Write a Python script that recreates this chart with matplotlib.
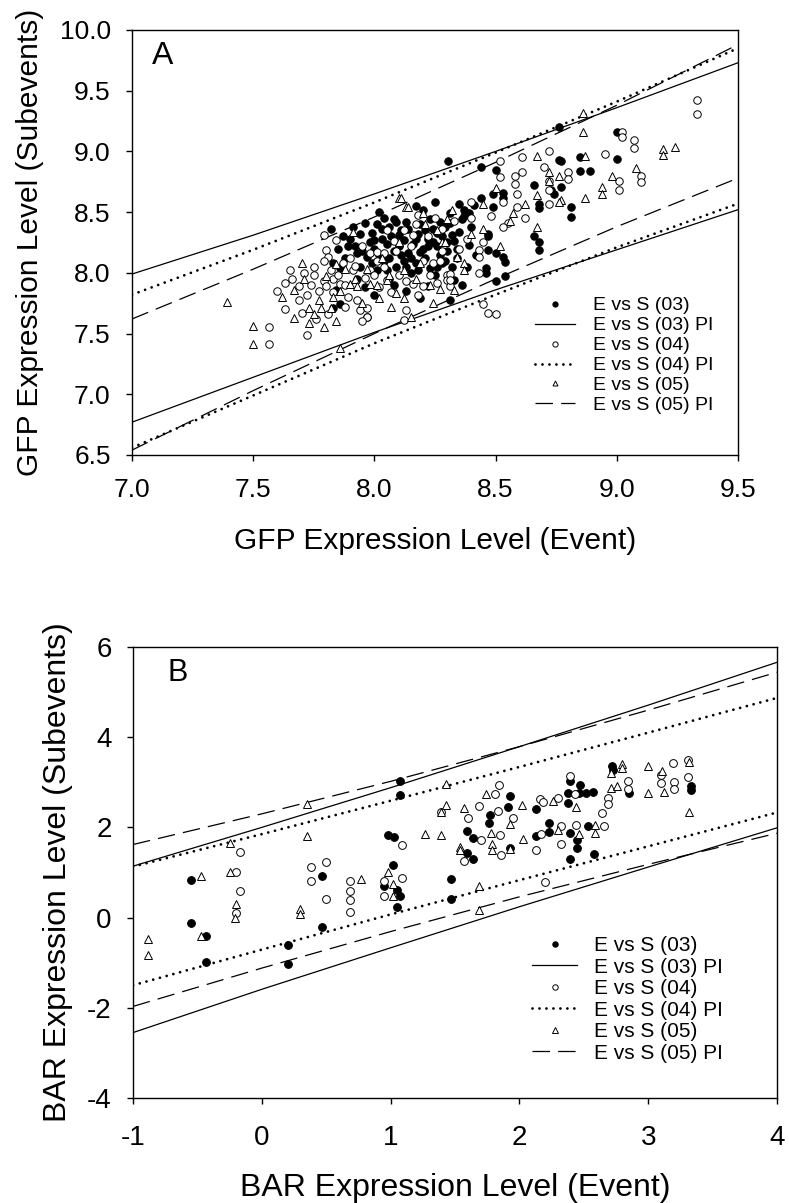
import numpy as np
import matplotlib
matplotlib.use('Agg')
import matplotlib.pyplot as plt

# ---------------- panel A : GFP ----------------
gfp_03 = [(8.305, 8.92), (8.44, 8.87), (8.50, 8.85), (8.76, 9.20), (8.76, 8.93), (8.77, 8.92),
          (8.85, 8.95), (8.85, 8.84), (8.89, 8.84), (9.00, 9.16), (9.00, 8.94), (8.66, 8.72),
          (8.77, 8.71), (8.73, 8.68), (8.74, 8.65), (8.68, 8.57), (8.68, 8.53), (8.81, 8.54),
          (8.81, 8.46), (8.66, 8.30), (8.68, 8.25), (8.68, 8.19), (8.44, 8.62), (8.49, 8.65),
          (8.49, 8.54), (8.53, 8.66), (8.53, 8.62), (8.37, 8.47), (8.39, 8.49), (8.31, 8.49),
          (8.31, 8.41), (8.47, 8.32), (8.47, 8.30), (8.39, 8.23), (8.47, 8.19), (8.50, 8.16),
          (8.53, 8.13), (8.54, 8.09), (8.46, 8.04), (8.46, 8.00), (8.50, 7.93), (8.54, 7.97),
          (7.82, 8.36), (7.90, 8.28), (7.94, 8.32), (7.96, 8.41), (8.04, 8.45), (8.09, 8.42),
          (8.13, 8.42), (7.92, 8.22), (7.95, 8.18), (7.98, 8.25), (8.00, 8.20), (8.02, 8.15),
          (8.05, 8.24), (8.07, 8.30), (8.08, 8.18), (8.10, 8.22), (8.12, 8.27), (8.14, 8.16),
          (8.16, 8.24), (8.18, 8.32), (8.20, 8.20), (8.22, 8.28), (8.24, 8.36), (8.26, 8.22),
          (8.28, 8.30), (8.30, 8.18), (8.33, 8.26), (8.35, 8.34), (8.11, 8.35), (8.19, 8.40),
          (8.27, 8.42), (8.03, 8.36), (7.99, 8.08), (8.01, 8.02), (8.04, 8.10), (8.06, 7.95),
          (8.09, 8.05), (8.12, 8.10), (8.15, 8.00), (8.17, 8.08), (8.21, 8.12), (8.23, 8.04),
          (8.25, 7.98), (8.29, 8.10), (8.32, 8.05), (7.88, 8.12), (7.85, 8.20), (7.83, 8.08),
          (7.86, 8.04), (7.84, 7.86), (7.86, 7.74), (7.83, 7.71), (7.97, 7.64), (8.19, 7.79),
          (8.22, 7.89), (8.31, 7.78), (8.33, 7.94), (8.28, 8.08), (7.93, 7.95), (7.96, 7.88),
          (8.00, 7.82), (8.08, 7.90), (8.13, 7.85), (8.02, 8.50), (8.17, 8.55), (8.35, 8.57),
          (8.40, 8.38), (8.42, 8.15), (8.38, 8.05), (8.36, 7.90), (7.87, 8.30), (7.91, 8.38),
          (7.99, 8.33), (8.01, 8.40), (8.06, 8.38), (8.10, 8.31), (8.14, 8.36), (8.17, 8.28),
          (8.21, 8.35), (8.24, 8.25), (8.26, 8.33), (8.29, 8.38), (8.32, 8.31), (8.34, 8.20),
          (7.97, 8.13), (8.03, 8.28), (8.06, 8.12), (8.11, 8.15), (8.15, 8.12), (8.19, 8.17),
          (8.22, 8.22), (8.27, 8.15), (8.30, 8.25), (7.93, 8.16), (7.89, 8.22), (8.08, 8.44),
          (8.23, 8.44), (8.36, 8.44), (8.13, 8.05), (8.18, 8.02), (8.26, 8.05), (8.34, 8.12),
          (8.05, 8.02), (7.94, 8.05), (8.00, 8.27), (8.37, 8.52), (8.41, 8.56), (8.25, 8.58),
          (8.20, 8.52)]
gfp_04 = [(9.33, 9.42), (9.33, 9.31), (9.02, 9.16), (9.02, 9.12), (9.07, 9.09), (9.07, 9.03),
          (9.10, 8.80), (9.10, 8.75), (9.01, 8.76), (9.01, 8.68), (8.72, 9.00), (8.61, 8.95),
          (8.52, 8.92), (8.52, 8.79), (8.61, 8.83), (8.58, 8.80), (8.58, 8.73), (8.59, 8.65),
          (8.59, 8.54), (8.80, 8.83), (8.80, 8.77), (8.72, 8.76), (8.72, 8.68), (8.72, 8.57),
          (8.53, 8.58), (8.55, 8.41), (8.53, 8.38), (8.43, 8.19), (8.43, 8.13), (8.43, 8.00),
          (8.30, 7.98), (8.30, 7.94), (8.31, 7.89), (8.45, 7.74), (8.47, 7.67), (8.50, 7.66),
          (7.65, 8.02), (7.63, 7.92), (7.63, 7.70), (7.70, 7.67), (7.72, 7.49), (7.565, 7.55),
          (7.565, 7.41), (7.75, 8.05), (7.75, 7.98), (7.69, 7.89), (7.72, 7.82), (7.69, 7.78),
          (7.79, 8.31), (7.84, 8.27), (7.80, 8.19), (7.81, 8.13), (7.79, 8.10), (7.79, 7.93),
          (7.80, 7.89), (7.83, 7.95), (7.86, 7.91), (7.83, 7.84), (7.89, 7.80), (7.90, 8.12),
          (7.88, 7.90), (7.93, 7.78), (7.94, 7.69), (7.97, 7.71), (7.97, 7.64), (7.95, 7.60),
          (7.98, 8.16), (8.01, 8.17), (8.01, 8.10), (8.04, 8.16), (7.98, 8.02), (8.00, 7.98),
          (8.04, 8.05), (8.05, 7.94), (8.05, 8.35), (8.12, 8.35), (8.16, 8.31), (8.13, 7.93),
          (8.16, 7.91), (8.13, 7.69), (8.12, 7.61), (8.20, 7.89), (8.20, 8.10), (8.24, 8.08),
          (8.27, 8.10), (8.31, 7.99), (8.31, 7.94), (8.15, 8.22), (8.22, 8.30), (8.28, 8.18),
          (8.35, 8.20), (8.38, 8.28), (8.25, 8.45), (8.18, 8.48), (8.40, 8.45), (7.95, 8.22),
          (8.08, 8.26), (7.60, 7.85), (7.66, 7.95), (7.71, 8.00), (7.74, 7.90), (7.77, 7.85),
          (7.82, 8.02), (7.85, 7.98), (7.87, 8.08), (7.91, 8.02), (7.76, 7.62), (7.81, 7.66),
          (7.88, 7.72), (7.92, 8.06), (7.96, 7.96), (8.02, 7.88), (8.07, 7.84), (8.10, 7.98),
          (8.18, 7.82), (8.23, 7.98), (8.26, 7.92), (8.09, 8.18), (8.17, 8.40), (8.28, 8.36),
          (8.33, 8.43), (8.45, 8.25), (8.48, 8.47), (8.40, 8.58), (8.62, 8.45), (8.70, 8.87),
          (8.95, 8.98)]
gfp_05 = [(8.86, 9.32), (8.86, 9.16), (8.67, 8.96), (8.87, 8.96), (9.19, 9.02), (9.19, 8.97),
          (9.24, 9.04), (8.72, 8.83), (8.72, 8.76), (8.76, 8.80), (8.94, 8.71), (8.94, 8.65),
          (8.87, 8.62), (8.77, 8.60), (8.76, 8.58), (8.67, 8.64), (8.67, 8.38), (8.45, 8.57),
          (8.57, 8.49), (8.56, 8.43), (8.45, 8.36), (8.32, 8.52), (8.20, 8.49), (8.13, 8.54),
          (8.10, 8.62), (8.37, 8.08), (8.37, 8.02), (8.26, 8.35), (8.28, 8.25), (8.11, 8.62),
          (8.14, 8.54), (7.91, 8.34), (7.39, 7.76), (7.50, 7.56), (7.50, 7.41), (7.70, 8.08),
          (7.67, 7.86), (7.67, 7.63), (7.73, 7.71), (7.73, 7.59), (7.79, 7.55), (7.84, 7.60),
          (7.77, 7.78), (7.78, 7.71), (7.82, 7.71), (7.83, 7.80), (7.86, 7.38), (7.84, 8.07),
          (7.88, 8.03), (7.90, 7.91), (7.92, 7.95), (7.93, 7.89), (7.98, 7.91), (8.01, 7.90),
          (8.02, 7.79), (8.05, 7.94), (8.07, 7.72), (8.06, 7.98), (8.10, 8.25), (8.12, 8.02),
          (8.15, 7.64), (8.12, 7.79), (8.23, 7.90), (8.24, 7.75), (8.27, 7.87), (8.29, 8.25),
          (8.33, 7.86), (7.62, 7.80), (7.71, 7.95), (7.75, 7.66), (7.80, 7.97), (7.86, 7.85),
          (7.95, 7.75), (7.97, 8.03), (8.03, 8.12), (8.09, 7.83), (8.17, 7.95), (8.19, 8.08),
          (8.21, 8.40), (8.30, 8.44), (8.34, 8.13), (8.40, 8.32), (8.50, 8.70), (8.62, 8.57),
          (8.98, 8.80), (9.08, 8.86), (8.52, 8.22)]

gfp_pi_x = [7.0, 7.5, 8.0, 8.5, 9.0, 9.5]
gfp_pi03_hi = [7.99, 8.31, 8.65, 9.00, 9.36, 9.73]
gfp_pi03_lo = [6.77, 7.14, 7.51, 7.86, 8.19, 8.52]
gfp_pi04_hi = [7.82, 8.19, 8.58, 8.99, 9.41, 9.85]
gfp_pi04_lo = [6.56, 6.99, 7.42, 7.82, 8.21, 8.57]
gfp_pi05_hi = [7.62, 8.03, 8.46, 8.91, 9.38, 9.88]
gfp_pi05_lo = [6.54, 7.03, 7.50, 7.95, 8.38, 8.78]

gfp_xticks = [7.0, 7.5, 8.0, 8.5, 9.0, 9.5]
gfp_yticks = [6.5, 7.0, 7.5, 8.0, 8.5, 9.0, 9.5, 10.0]

# ---------------- panel B : BAR ----------------
bar_03 = [(-0.55, 0.83), (-0.55, -0.11), (-0.43, -0.41), (-0.43, -0.98), (0.20, -0.61),
          (0.20, -1.03), (0.47, 0.93), (0.47, -0.22), (0.98, 1.83), (1.03, 1.78), (1.02, 1.17),
          (0.95, 0.69), (1.05, 0.61), (1.07, 0.47), (1.05, 0.24), (1.07, 3.02), (1.07, 2.72),
          (1.47, 0.86), (1.47, 0.41), (1.59, 1.93), (1.64, 1.76), (1.59, 1.43), (1.64, 1.29),
          (1.76, 2.09), (1.93, 1.55), (2.13, 1.81), (2.23, 2.09), (2.23, 1.89), (2.39, 1.88),
          (2.45, 1.71), (2.45, 1.54), (2.39, 1.29), (2.53, 2.02), (2.58, 1.41), (1.93, 2.69),
          (1.91, 2.46), (1.77, 2.28), (2.13, 2.41), (2.39, 3.02), (2.47, 2.95), (2.38, 2.77),
          (2.38, 2.55), (2.46, 2.77), (2.52, 2.77), (2.57, 2.79), (2.72, 3.36), (2.73, 3.28),
          (2.85, 2.77), (3.33, 2.91), (3.33, 2.82)]
bar_04 = [(-0.17, 1.46), (-0.20, 1.02), (-0.17, 0.59), (-0.20, 0.11), (0.38, 1.12), (0.38, 0.80),
          (0.50, 1.23), (0.50, 0.41), (0.685, 0.80), (0.685, 0.58), (0.685, 0.39), (0.685, 0.13),
          (0.95, 0.80), (0.95, 0.48), (1.09, 1.61), (1.09, 0.87), (1.57, 1.26), (1.70, 1.72),
          (1.85, 1.83), (1.86, 1.39), (2.13, 1.50), (2.20, 0.78), (2.17, 1.85), (2.32, 1.63),
          (2.32, 2.02), (2.44, 2.05), (2.66, 2.02), (1.84, 2.93), (1.81, 2.73), (1.69, 2.47),
          (1.83, 2.36), (2.16, 2.62), (2.18, 2.56), (2.30, 2.66), (2.39, 3.13), (2.43, 2.73),
          (2.69, 2.66), (2.69, 2.51), (2.64, 2.31), (2.84, 3.02), (2.84, 2.84), (3.10, 3.17),
          (3.10, 2.99), (3.19, 3.43), (3.20, 3.00), (3.20, 2.85), (3.31, 3.49), (3.31, 3.11),
          (1.39, 2.33), (1.60, 2.20), (1.95, 2.20)]
bar_05 = [(-0.88, -0.47), (-0.88, -0.83), (-0.47, 0.92), (-0.47, -0.41), (-0.25, 1.66),
          (-0.25, 1.02), (-0.20, 0.30), (-0.21, -0.01), (0.30, 0.18), (0.30, 0.07), (0.35, 2.52),
          (0.35, 1.81), (0.77, 0.85), (0.98, 1.00), (1.02, 0.75), (1.02, 0.48), (1.27, 1.85),
          (1.39, 1.82), (1.54, 1.57), (1.54, 1.50), (1.69, 0.70), (1.69, 0.17), (1.78, 1.87),
          (1.79, 1.63), (1.79, 1.50), (1.93, 2.08), (1.93, 1.52), (2.03, 1.74), (2.30, 1.94),
          (2.46, 1.86), (2.59, 2.05), (2.59, 1.88), (1.43, 2.97), (1.43, 2.50), (1.57, 2.43),
          (1.74, 2.73), (2.02, 2.49), (2.26, 2.58), (2.44, 2.46), (2.71, 2.88), (2.76, 2.92),
          (2.71, 3.20), (2.80, 3.41), (2.80, 3.32), (3.00, 3.37), (3.00, 2.77), (3.11, 3.24),
          (3.12, 2.79), (3.32, 3.44), (3.32, 2.35), (1.39, 2.33)]

bar_pi_x = [-1, 0, 1, 2, 3, 4]
bar_pi03_hi = [1.14, 2.00, 2.88, 3.79, 4.71, 5.66]
bar_pi03_lo = [-2.55, -1.59, -0.67, 0.24, 1.12, 1.99]
bar_pi04_hi = [1.13, 1.85, 2.59, 3.34, 4.10, 4.87]
bar_pi04_lo = [-1.50, -0.71, 0.07, 0.83, 1.58, 2.33]
bar_pi05_hi = [1.62, 2.30, 3.02, 3.79, 4.60, 5.44]
bar_pi05_lo = [-1.97, -1.12, -0.31, 0.46, 1.18, 1.87]

bar_xticks = [-1, 0, 1, 2, 3, 4]
bar_yticks = [-4, -2, 0, 2, 4, 6]

labels = ['E vs S (03)', 'E vs S (03) PI', 'E vs S (04)', 'E vs S (04) PI',
          'E vs S (05)', 'E vs S (05) PI']

plt.rcParams['font.family'] = ['Liberation Sans', 'DejaVu Sans']
plt.rcParams['axes.unicode_minus'] = False

DOT = (0, (0.01, 2.5))
DASH = (0, (14, 6.5))


def draw_panel(ax, s03, s04, s05, pix, pis, ms):
    x, y = np.array(s03).T
    ax.plot(x, y, 'o', ms=ms, mfc='black', mec='black', mew=0.7, zorder=3, label=labels[0])
    ax.plot(pix, pis[0], '-', color='black', lw=0.9, zorder=2, label=labels[1])
    ax.plot(pix, pis[1], '-', color='black', lw=0.9, zorder=2)
    x, y = np.array(s04).T
    ax.plot(x, y, 'o', ms=ms, mfc='white', mec='black', mew=0.7, zorder=3, label=labels[2])
    ax.plot(pix, pis[2], color='black', lw=2.0, ls=DOT, dash_capstyle='round', zorder=2,
            label=labels[3])
    ax.plot(pix, pis[3], color='black', lw=2.0, ls=DOT, dash_capstyle='round', zorder=2)
    x, y = np.array(s05).T
    ax.plot(x, y, '^', ms=ms * 0.95, mfc='white', mec='black', mew=0.7, zorder=3, label=labels[4])
    ax.plot(pix, pis[4], color='black', lw=0.9, ls=DASH, zorder=2, label=labels[5])
    ax.plot(pix, pis[5], color='black', lw=0.9, ls=DASH, zorder=2)
    for sp in ax.spines.values():
        sp.set_linewidth(1.0)


fig = plt.figure(figsize=(7.89, 12.03), dpi=100)

# panel A
axA = fig.add_axes([0.1673, 0.6218, 0.7681, 0.3533])
draw_panel(axA, gfp_03, gfp_04, gfp_05, gfp_pi_x,
           [gfp_pi03_hi, gfp_pi03_lo, gfp_pi04_hi, gfp_pi04_lo, gfp_pi05_hi, gfp_pi05_lo], 5.4)
axA.set_xlim(7.0, 9.5)
axA.set_ylim(6.5, 10.0)
axA.set_xticks(gfp_xticks)
axA.set_xticklabels(['%.1f' % v for v in gfp_xticks])
axA.set_yticks(gfp_yticks)
axA.set_yticklabels(['%.1f' % v for v in gfp_yticks])
axA.tick_params(direction='out', length=4.3, width=1.0, labelsize=19)
axA.tick_params(axis='x', pad=12)
axA.tick_params(axis='y', pad=11)
axA.set_xlabel('GFP Expression Level (Event)', fontsize=21.5)
axA.xaxis.set_label_coords(0.5, -0.169)
axA.set_ylabel('GFP Expression Level (Subevents)', fontsize=21.5)
axA.yaxis.set_label_coords(-0.145, 0.5)
axA.text(0.033, 0.975, 'A', transform=axA.transAxes, fontsize=23, ha='left', va='top')
axA.legend(loc='upper left', bbox_to_anchor=(0.665, 0.372), frameon=False, fontsize=14,
           borderpad=0, borderaxespad=0, handlelength=2.06, handletextpad=0.93,
           labelspacing=0.12, markerscale=0.7, numpoints=1)

# panel B
axB = fig.add_axes([0.1686, 0.0873, 0.8162, 0.3749])
draw_panel(axB, bar_03, bar_04, bar_05, bar_pi_x,
           [bar_pi03_hi, bar_pi03_lo, bar_pi04_hi, bar_pi04_lo, bar_pi05_hi, bar_pi05_lo], 5.6)
axB.set_xlim(-1, 4)
axB.set_ylim(-4, 6)
axB.set_xticks(bar_xticks)
axB.set_yticks(bar_yticks)
axB.tick_params(direction='out', length=4.3, width=1.0, labelsize=20)
axB.tick_params(axis='x', pad=15)
axB.tick_params(axis='y', pad=11)
axB.set_xlabel('BAR Expression Level (Event)', fontsize=23)
axB.xaxis.set_label_coords(0.5, -0.166)
axB.set_ylabel('BAR Expression Level (Subevents)', fontsize=23)
axB.yaxis.set_label_coords(-0.093, 0.5)
axB.text(0.054, 0.975, 'B', transform=axB.transAxes, fontsize=22, ha='left', va='top')
axB.legend(loc='upper left', bbox_to_anchor=(0.62, 0.359), frameon=False, fontsize=15,
           borderpad=0, borderaxespad=0, handlelength=2.16, handletextpad=0.8,
           labelspacing=0.12, markerscale=0.7, numpoints=1)

fig.savefig('out.png', dpi=100)
